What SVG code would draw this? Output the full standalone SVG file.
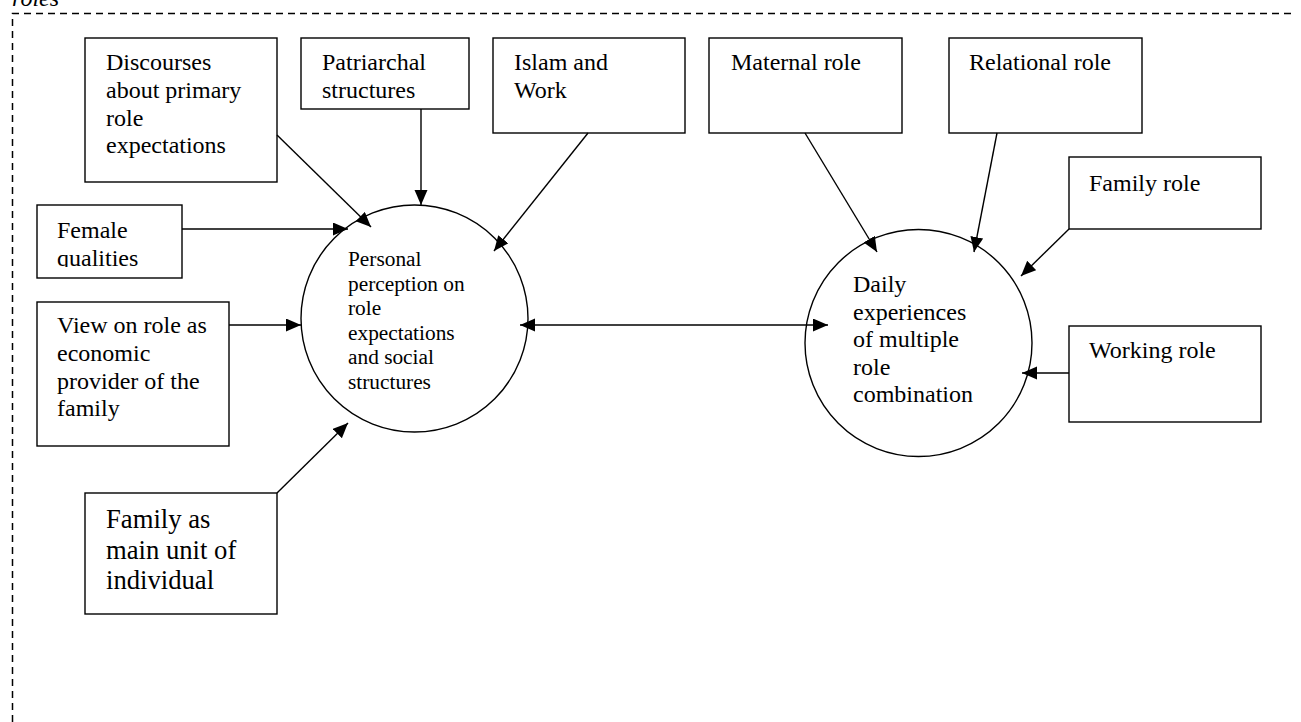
<svg xmlns="http://www.w3.org/2000/svg" width="1301" height="722" viewBox="0 0 1301 722">
<style>
.box{fill:#fff;stroke:#000;stroke-width:1.4}
.circ{fill:#fff;stroke:#000;stroke-width:1.4}
.t{font-family:"Liberation Serif","Times New Roman",serif;font-size:24px;fill:#000}
.ts{font-family:"Liberation Serif","Times New Roman",serif;font-size:21.33px;fill:#000}
.tl{font-family:"Liberation Serif","Times New Roman",serif;font-size:26.67px;fill:#000}
.edge{fill:none;stroke:#000;stroke-width:1.4;marker-end:url(#ah)}
.frame{fill:none;stroke:#000;stroke-width:1.5;stroke-dasharray:7 5}
</style>
<defs>
<marker id="ah" markerUnits="userSpaceOnUse" markerWidth="17" markerHeight="14" refX="15" refY="6.5" orient="auto-start-reverse">
<path d="M0,0 L15,6.5 L0,13 z" fill="#000"/>
</marker>
<clipPath id="clipFemale"><rect x="37" y="205" width="145" height="62"/></clipPath>
</defs>
<text x="12" y="6" class="t" font-style="italic">roles</text>
<path class="frame" d="M12.5,722 L12.5,13.5 L1296,13.5"/>

<g id="discourses">
<rect class="box" x="85" y="38" width="192" height="144"/>
<text class="t" x="106" y="70">Discourses</text>
<text class="t" x="106" y="98">about primary</text>
<text class="t" x="106" y="125.5">role</text>
<text class="t" x="106" y="153">expectations</text>
</g>
<g id="patriarchal">
<rect class="box" x="301" y="38" width="168" height="71"/>
<text class="t" x="322" y="70">Patriarchal</text>
<text class="t" x="322" y="98">structures</text>
</g>
<g id="islam">
<rect class="box" x="493" y="38" width="192" height="95"/>
<text class="t" x="514" y="70">Islam and</text>
<text class="t" x="514" y="98">Work</text>
</g>
<g id="maternal">
<rect class="box" x="709" y="38" width="193" height="95"/>
<text class="t" x="731" y="70">Maternal role</text>
</g>
<g id="relational">
<rect class="box" x="949" y="38" width="193" height="95"/>
<text class="t" x="969" y="70">Relational role</text>
</g>
<g id="familyrole">
<rect class="box" x="1069" y="157" width="192" height="72"/>
<text class="t" x="1089" y="191">Family role</text>
</g>
<g id="workingrole">
<rect class="box" x="1069" y="326" width="192" height="96"/>
<text class="t" x="1089" y="358">Working role</text>
</g>
<g id="female">
<rect class="box" x="37" y="205" width="145" height="73"/>
<g clip-path="url(#clipFemale)">
<text class="t" x="57" y="238">Female</text>
<text class="t" x="57" y="266">qualities</text>
</g>
</g>
<g id="viewrole">
<rect class="box" x="37" y="302" width="192" height="144"/>
<text class="t" x="57" y="333">View on role as</text>
<text class="t" x="57" y="361">economic</text>
<text class="t" x="57" y="388.5">provider of the</text>
<text class="t" x="57" y="416">family</text>
</g>
<g id="familyunit">
<rect class="box" x="85" y="493" width="192" height="121"/>
<text class="tl" x="106" y="528">Family as</text>
<text class="tl" x="106" y="558.5">main unit of</text>
<text class="tl" x="106" y="589">individual</text>
</g>
<g id="personal">
<circle class="circ" cx="414.5" cy="318.5" r="113.5"/>
<text class="ts" x="348" y="266">Personal</text>
<text class="ts" x="348" y="290.5">perception on</text>
<text class="ts" x="348" y="315">role</text>
<text class="ts" x="348" y="339.5">expectations</text>
<text class="ts" x="348" y="364">and social</text>
<text class="ts" x="348" y="388.5">structures</text>
</g>
<g id="daily">
<circle class="circ" cx="918.5" cy="343" r="113.5"/>
<text class="t" x="853" y="292">Daily</text>
<text class="t" x="853" y="319.5">experiences</text>
<text class="t" x="853" y="347">of multiple</text>
<text class="t" x="853" y="374.5">role</text>
<text class="t" x="853" y="402">combination</text>
</g>

<g id="connectors">
<line class="edge" x1="277" y1="135" x2="371" y2="227"/>
<line class="edge" x1="421" y1="109" x2="421" y2="205"/>
<line class="edge" x1="588" y1="133" x2="494" y2="251"/>
<line class="edge" x1="182" y1="229" x2="348" y2="229"/>
<line class="edge" x1="229" y1="325" x2="301" y2="325"/>
<line class="edge" x1="277" y1="493" x2="348" y2="423"/>
<line class="edge" x1="520" y1="325" x2="828" y2="325" style="marker-start:url(#ah)"/>
<line class="edge" x1="805" y1="133" x2="877" y2="252"/>
<line class="edge" x1="997" y1="133" x2="974" y2="252"/>
<line class="edge" x1="1069" y1="229" x2="1021" y2="276"/>
<line class="edge" x1="1069" y1="373" x2="1022" y2="373"/>
</g>
</svg>
